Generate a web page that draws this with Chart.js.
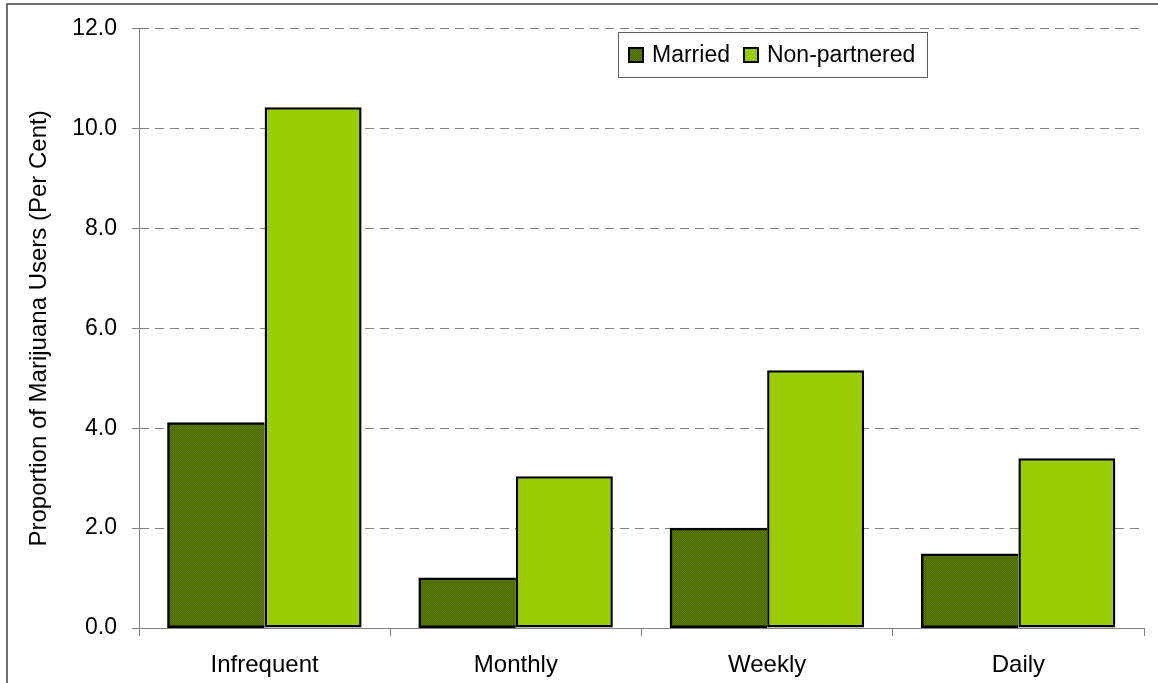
<!DOCTYPE html>
<html>
<head>
<meta charset="utf-8">
<script src="https://cdn.jsdelivr.net/npm/chart.js@4"></script>
<style>
  html, body { margin: 0; padding: 0; background: #ffffff; }
  canvas { display: block; }
</style>
</head>
<body>
<canvas id="c" width="1158" height="683"></canvas>
<script>
// ---- data ----
const categories = ['Infrequent', 'Monthly', 'Weekly', 'Daily'];
const seriesNames = ['Married', 'Non-partnered'];
const marriedValues = [4.11, 1.0, 2.0, 1.48];
const nonPartneredValues = [10.43, 3.04, 5.16, 3.40];
const yTickLabels = ['0.0', '2.0', '4.0', '6.0', '8.0', '10.0', '12.0'];
const yAxisTitle = 'Proportion of Marijuana Users (Per Cent)';

// ---- textures ----
function makePattern(base, accent, cells) {
  const p = document.createElement('canvas');
  p.width = 4; p.height = 4;
  const g = p.getContext('2d');
  g.fillStyle = base; g.fillRect(0, 0, 4, 4);
  g.fillStyle = accent;
  cells.forEach(([x, y]) => g.fillRect(x, y, 1, 1));
  return g.createPattern(p, 'repeat');
}
const ctx = document.getElementById('c').getContext('2d');
const darkFill = makePattern('#4a6600', '#5f7f08', [[0,0],[1,1],[2,2],[3,3],[2,0],[3,1],[0,2],[1,3]]);
const lightFill = makePattern('#99cc00', '#aad81c', [[0,0],[2,2]]);

const FONT = "'Liberation Sans', Arial, sans-serif";

// legend box + outer frame plugin
const framePlugin = {
  id: 'frame',
  afterDraw(chart) {
    const c = chart.ctx;
    c.save();
    // outer frame (cut at right/bottom like the reference)
    c.strokeStyle = '#404040';
    c.lineWidth = 1.5;
    c.beginPath();
    c.moveTo(7, 690); c.lineTo(7, 4); c.lineTo(1170, 4);
    c.stroke();
    // legend
    const bx = 618.5, by = 32.5, bw = 309, bh = 45;
    c.fillStyle = '#ffffff';
    c.fillRect(bx, by, bw, bh);
    c.strokeStyle = '#606060';
    c.lineWidth = 1;
    c.strokeRect(bx, by, bw, bh);
    c.font = '23px ' + FONT;
    c.textBaseline = 'middle';
    c.textAlign = 'left';
    const fills = [darkFill, lightFill];
    let x = 629;
    const cy = by + bh / 2;
    chart.data.datasets.forEach((ds, i) => {
      c.fillStyle = fills[i];
      c.fillRect(x, cy - 7, 14, 14);
      c.strokeStyle = '#000000';
      c.lineWidth = 2;
      c.strokeRect(x, cy - 7, 14, 14);
      c.fillStyle = '#000000';
      c.fillText(ds.label, x + 23, cy + 1);
      x += 23 + c.measureText(ds.label).width + 14;
    });
    c.restore();
  }
};

new Chart(ctx, {
  type: 'bar',
  data: {
    labels: categories,
    datasets: [
      { label: seriesNames[0], data: marriedValues, backgroundColor: darkFill, borderColor: '#000000', borderWidth: 2.5, borderSkipped: 'right', inflateAmount: 0.5 },
      { label: seriesNames[1], data: nonPartneredValues, backgroundColor: lightFill, borderColor: '#000000', borderWidth: 2.5, borderSkipped: false, inflateAmount: 0 }
    ]
  },
  options: {
    responsive: false,
    animation: false,
    devicePixelRatio: 1,
    layout: { padding: { left: 0, right: 14, top: 27, bottom: 0 } },
    datasets: { bar: { categoryPercentage: 0.772, barPercentage: 1.0 } },
    plugins: { legend: { display: false }, tooltip: { enabled: false }, title: { display: false } },
    scales: {
      x: {
        grid: { display: true, drawOnChartArea: false, offset: true, color: '#808080', tickLength: 8 },
        border: { display: true, color: '#808080', width: 1 },
        ticks: { color: '#000000', font: { family: FONT, size: 24 }, padding: 15, maxRotation: 0 },
        afterFit(s) { s.height = 55; }
      },
      y: {
        min: 0, max: 12,
        grid: { color: '#808080', tickLength: 7, tickBorderDash: [] },
        border: { display: true, color: '#808080', width: 1, dash: [9, 6] },
        ticks: {
          stepSize: 2,
          color: '#000000',
          padding: 15,
          font: { family: FONT, size: 23 },
          callback: (v) => yTickLabels[Math.round(v / 2)]
        },
        title: { display: true, text: yAxisTitle, color: '#000000', font: { family: FONT, size: 24 }, padding: { top: 25, bottom: 0 } },
        afterFit(s) { s.width = 139; }
      }
    }
  },
  plugins: [framePlugin]
});
</script>
</body>
</html>
